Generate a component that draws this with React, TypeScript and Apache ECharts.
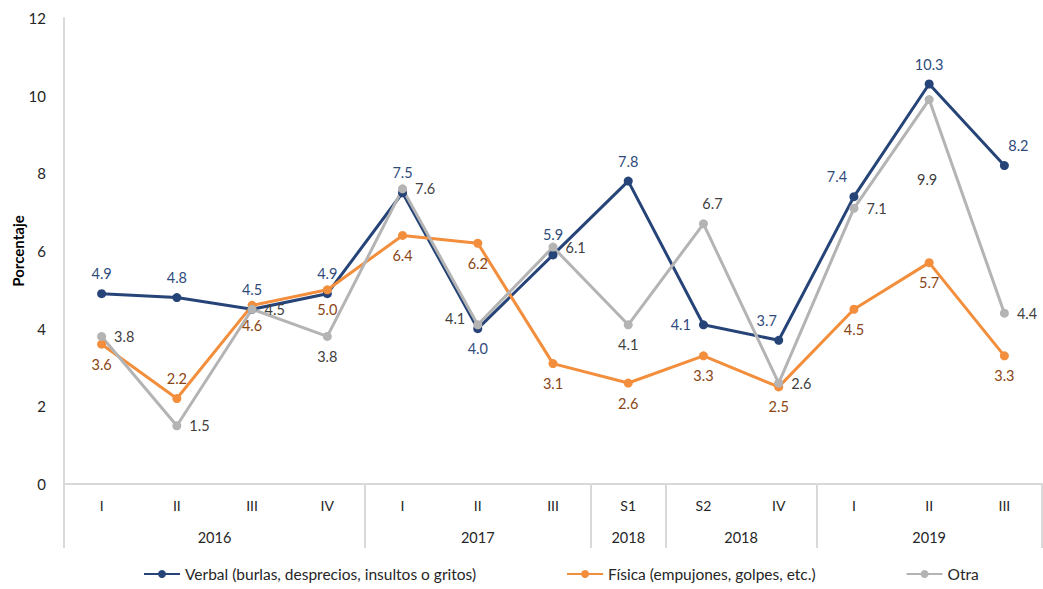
import React, { useEffect, useRef } from "react";
import * as echarts from "echarts";

const quarters = ["I", "II", "III", "IV", "I", "II", "III", "S1", "S2", "IV", "I", "II", "III"];
const yearLabels = ["2016", "2017", "2018", "2018", "2019"];
const yearSpans = [4, 3, 1, 2, 3];

const verbal = [4.9, 4.8, 4.5, 4.9, 7.5, 4.0, 5.9, 7.8, 4.1, 3.7, 7.4, 10.3, 8.2];
const fisica = [3.6, 2.2, 4.6, 5.0, 6.4, 6.2, 3.1, 2.6, 3.3, 2.5, 4.5, 5.7, 3.3];
const otra = [3.8, 1.5, 4.5, 3.8, 7.6, 4.1, 6.1, 4.1, 6.7, 2.6, 7.1, 9.9, 4.4];

const seriesNames = [
  "Verbal (burlas, desprecios, insultos o gritos)",
  "Física (empujones, golpes, etc.)",
  "Otra",
];

// label placement (style only)
const verbalPos = ["top", "top", "top", "top", "top", "bottom", "top", "top", "left", "top", "top", "top", "top"];
const verbalOff: number[][] = [[0, 0], [0, 0], [0, 0], [0, 0], [0, 0], [0, 0], [0, 0], [0, 0], [0, 0], [-12, 0], [-17, 0], [0, 0], [14, 0]];
const fisicaPos = ["bottom", "top", "bottom", "bottom", "bottom", "bottom", "bottom", "bottom", "bottom", "bottom", "bottom", "bottom", "bottom"];
const otraPos = ["right", "right", "right", "bottom", "right", "left", "right", "bottom", "top", "right", "right", "bottom", "right"];
const otraOff: number[][] = [[0, 0], [0, 0], [0, 0], [0, 0], [0, 0], [0, -6], [0, 0], [0, 0], [9, 0], [0, 0], [0, 0], [-2, 60], [0, 0]];

const FONT = "Lato, 'Open Sans', sans-serif";

export default function App() {
  const ref = useRef<HTMLDivElement>(null);
  useEffect(() => {
    if (!ref.current) return;
    const chart = echarts.init(ref.current, undefined, { renderer: "svg" });

    // half-slot axis for year groups
    const n = quarters.length;
    const halfCount = n * 2 + 1;
    const halfData = Array.from({ length: halfCount }, (_, i) => "h" + i);
    const tickIdx: number[] = [0];
    const labelMap: Record<number, string> = {};
    let acc = 0;
    yearSpans.forEach((s, k) => {
      labelMap[acc * 2 + s] = yearLabels[k];
      acc += s;
      tickIdx.push(acc * 2);
    });

    const mk = (vals: number[], pos: string[], off: number[][] | null, color: string) =>
      vals.map((v, i) => ({
        value: v,
        label: {
          show: true,
          position: pos[i],
          offset: off ? off[i] : [0, 0],
          distance: 8,
          color,
          fontSize: 14.5,
          fontFamily: FONT,
          formatter: (p: any) => Number(p.value).toFixed(1),
        },
      }));

    chart.setOption({
      animation: false,
      textStyle: { fontFamily: FONT },
      grid: { left: 64, right: 1, top: 18, bottom: 105, containLabel: false, outerBoundsMode: "none" },
      legend: {
        bottom: 2,
        left: 138,
        itemGap: 90,
        itemWidth: 36,
        itemHeight: 10,
        textStyle: { fontSize: 15.5, color: "#262626", fontFamily: FONT },
        data: seriesNames,
      },
      xAxis: [
        {
          type: "category",
          position: "bottom",
          data: quarters.map((q, i) => q + "\u200b".repeat(i)),
          boundaryGap: true,
          axisLine: { show: true, lineStyle: { color: "#d9d9d9", width: 2 } },
          axisTick: { show: false },
          axisLabel: {
            interval: 0,
            margin: 14,
            fontSize: 14,
            color: "#262626",
            fontFamily: FONT,
            formatter: (v: string) => v.replace(/\u200b/g, ""),
          },
        },
        {
          type: "category",
          position: "bottom",
          data: halfData,
          boundaryGap: false,
          axisLine: { show: false },
          axisTick: {
            show: true,
            length: 64,
            interval: (i: number) => tickIdx.includes(i),
            lineStyle: { color: "#d9d9d9", width: 2 },
          },
          axisLabel: {
            show: true,
            margin: 46,
            fontSize: 14.5,
            color: "#262626",
            fontFamily: FONT,
            interval: (i: number) => labelMap[i] !== undefined,
            formatter: (_v: string, i: number) => labelMap[i] || "",
          },
        },
      ],
      yAxis: {
        type: "value",
        min: 0,
        max: 12,
        interval: 2,
        name: "Porcentaje",
        nameLocation: "middle",
        nameGap: 39,
        nameMoveOverlap: false,
        nameTextStyle: { fontSize: 15, fontWeight: "bold", color: "#000", fontFamily: FONT },
        axisLine: { show: true, lineStyle: { color: "#d9d9d9", width: 2 } },
        axisTick: { show: false },
        splitLine: { show: false },
        axisLabel: { fontSize: 15, color: "#262626", margin: 18, fontFamily: FONT },
      },
      series: [
        {
          name: seriesNames[0],
          type: "line",
          xAxisIndex: 0,
          symbol: "circle",
          symbolSize: 9,
          color: "#264478",
          lineStyle: { width: 3, color: "#264478" },
          data: mk(verbal, verbalPos, verbalOff, "#2f4b7c"),
        },
        {
          name: seriesNames[1],
          type: "line",
          xAxisIndex: 0,
          symbol: "circle",
          symbolSize: 9,
          color: "#f28e3c",
          lineStyle: { width: 3, color: "#f28e3c" },
          data: mk(fisica, fisicaPos, null, "#8a4516"),
        },
        {
          name: seriesNames[2],
          type: "line",
          xAxisIndex: 0,
          symbol: "circle",
          symbolSize: 9,
          color: "#b4b4b4",
          lineStyle: { width: 3, color: "#b4b4b4" },
          data: mk(otra, otraPos, otraOff, "#404040"),
        },
      ],
    });
    return () => chart.dispose();
  }, []);
  return (
    <div
      ref={ref}
      style={{ position: "fixed", left: 0, top: 0, width: 1043, height: 589, background: "#fff" }}
    />
  );
}
